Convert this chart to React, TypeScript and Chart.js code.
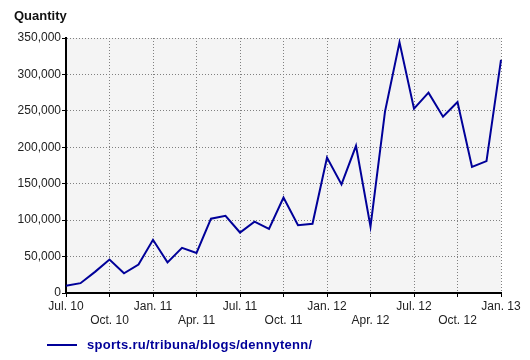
import React, { useEffect, useRef } from "react";
import { Chart, registerables } from "chart.js";

Chart.register(...registerables);

const months: string[] = [
  "Jul. 10", "Aug. 10", "Sep. 10", "Oct. 10", "Nov. 10", "Dec. 10",
  "Jan. 11", "Feb. 11", "Mar. 11", "Apr. 11", "May 11", "Jun. 11",
  "Jul. 11", "Aug. 11", "Sep. 11", "Oct. 11", "Nov. 11", "Dec. 11",
  "Jan. 12", "Feb. 12", "Mar. 12", "Apr. 12", "May 12", "Jun. 12",
  "Jul. 12", "Aug. 12", "Sep. 12", "Oct. 12", "Nov. 12", "Dec. 12",
  "Jan. 13",
];

const quantity: number[] = [
  10000, 13500, 29000, 46000, 27000, 39000,
  73000, 42000, 62000, 55000, 102000, 106000,
  83000, 98000, 88000, 131000, 93000, 95000,
  186000, 149000, 202000, 91000, 249000, 344000,
  253000, 275000, 242000, 262000, 173000, 181000,
  320000,
];

const seriesLabel = "sports.ru/tribuna/blogs/dennytenn/";
const axisTitle = "Quantity";
const yMin = 0;
const yMax = 350000;
const yStep = 50000;

const FONT = "'Liberation Sans', Arial, sans-serif";
const LINE_COLOR = "#000099";

const plotBg = {
  id: "plotBg",
  beforeDraw(chart: any) {
    const { ctx, chartArea } = chart;
    ctx.save();
    ctx.fillStyle = "#f4f4f4";
    ctx.fillRect(chartArea.left, chartArea.top, chartArea.right - chartArea.left, chartArea.bottom - chartArea.top);
    ctx.restore();
  },
};

const titleAndLegend = {
  id: "titleAndLegend",
  afterDraw(chart: any) {
    const { ctx } = chart;
    ctx.save();
    // axis title
    ctx.fillStyle = "#111";
    ctx.font = `bold 13px ${FONT}`;
    ctx.textAlign = "left";
    ctx.textBaseline = "middle";
    ctx.fillText(axisTitle, 14, 16);
    // legend
    const ds = chart.data.datasets[0];
    ctx.strokeStyle = ds.borderColor;
    ctx.lineWidth = 2;
    ctx.beginPath();
    ctx.moveTo(47, 345);
    ctx.lineTo(77, 345);
    ctx.stroke();
    ctx.fillStyle = ds.borderColor;
    ctx.font = `bold 13px ${FONT}`;
    try { (ctx as any).letterSpacing = "0.3px"; } catch (e) {}
    ctx.fillText(ds.label, 87, 345);
    ctx.restore();
  },
};

export default function App() {
  const ref = useRef<HTMLCanvasElement | null>(null);

  useEffect(() => {
    if (!ref.current) return;
    const chart = new Chart(ref.current, {
      type: "line",
      data: {
        labels: months,
        datasets: [
          {
            label: seriesLabel,
            data: quantity,
            borderColor: LINE_COLOR,
            backgroundColor: LINE_COLOR,
            borderWidth: 2,
            pointRadius: 0,
            tension: 0,
            fill: false,
          },
        ],
      },
      plugins: [plotBg, titleAndLegend],
      options: {
        responsive: false,
        animation: false,
        layout: { padding: { left: 13, top: 38, right: 29, bottom: 29 } },
        plugins: {
          legend: { display: false },
          title: { display: false },
          tooltip: { enabled: false },
        },
        scales: {
          x: {
            type: "category",
            offset: false,
            afterFit: (s: any) => { s.height = 38; },
            border: { display: true, color: "#000", width: 2, dash: [1, 2] },
            grid: {
              color: (c: any) => (c.index % 3 === 0 ? "#808080" : "rgba(0,0,0,0)"),
              tickColor: (c: any) => (c.index % 3 === 0 ? "#000" : "rgba(0,0,0,0)"),
              tickBorderDash: [],
              tickLength: 4,
              lineWidth: 1,
            },
            ticks: {
              autoSkip: false,
              maxRotation: 0,
              minRotation: 0,
              padding: 2,
              color: "#222",
              font: { family: FONT, size: 12 },
              callback: (_v: any, i: number) => {
                if (i % 3 !== 0) return "";
                const q = i / 3;
                return q % 2 === 0 ? [months[i], ""] : ["", months[i]];
              },
            },
          },
          y: {
            min: yMin,
            max: yMax,
            afterFit: (s: any) => { s.width = 53; },
            border: { display: true, color: "#000", width: 2, dash: [1, 2] },
            grid: {
              color: "#808080",
              tickColor: "#000",
              tickBorderDash: [],
              tickLength: 4,
              lineWidth: 1,
            },
            ticks: {
              stepSize: yStep,
              padding: 1,
              color: "#222",
              font: { family: FONT, size: 12 },
              callback: (v: any) => Number(v).toLocaleString("en-US"),
            },
          },
        },
      },
    });
    return () => chart.destroy();
  }, []);

  return (
    <div style={{ position: "absolute", left: 0, top: 0, width: 530, height: 360, background: "#fff" }}>
      <canvas ref={ref} width={530} height={360} />
    </div>
  );
}
